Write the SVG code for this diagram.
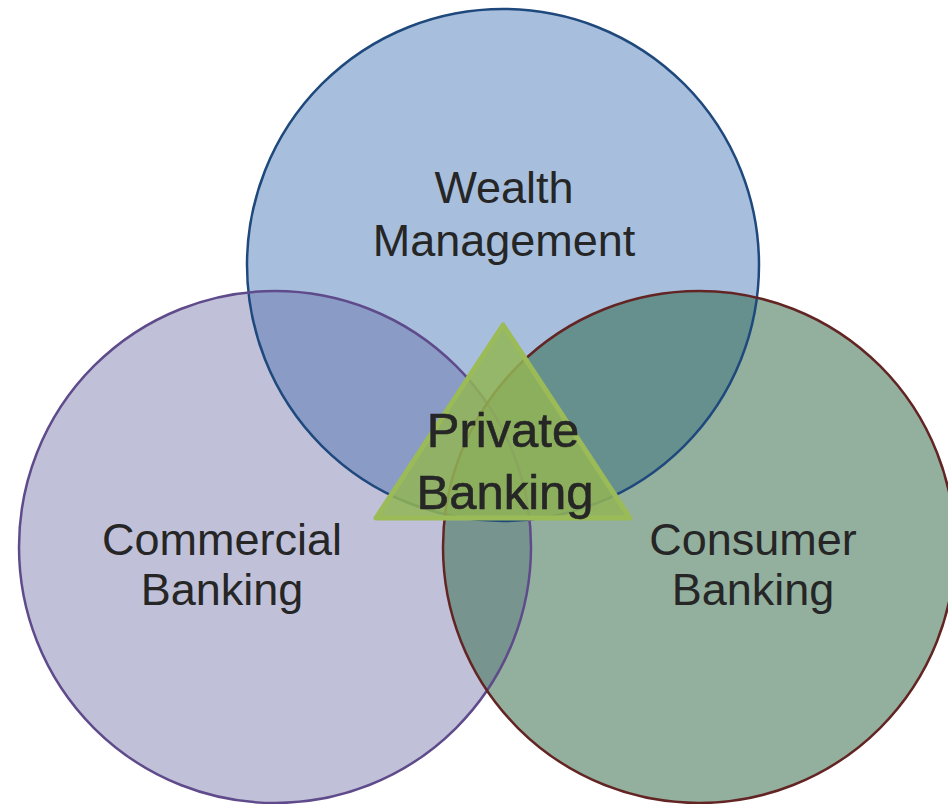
<svg xmlns="http://www.w3.org/2000/svg" width="948" height="804" viewBox="0 0 948 804">
<defs>
<style>
.lbl{font-family:"Liberation Sans",Arial,sans-serif;font-size:45px;fill:#262626;text-anchor:middle}
.big{font-size:49px;stroke:#262626;stroke-width:0.6}
</style>
<clipPath id="cT"><circle cx="503" cy="265" r="256"/></clipPath>
<clipPath id="cL"><circle cx="275" cy="547" r="256"/></clipPath>
<clipPath id="cTL" clip-path="url(#cT)"><circle cx="275" cy="547" r="256"/></clipPath>
</defs>
<rect width="948" height="804" fill="#ffffff"/>
<g id="fills">
<circle cx="503" cy="265" r="256" fill="#a7bfdd"/>
<circle cx="275" cy="547" r="256" fill="#c0c1d8"/>
<circle cx="699" cy="547" r="256" fill="#93b09f"/>
<circle cx="275" cy="547" r="256" fill="#8a9bc6" clip-path="url(#cT)"/>
<circle cx="699" cy="547" r="256" fill="#66908e" clip-path="url(#cT)"/>
<circle cx="699" cy="547" r="256" fill="#77958e" clip-path="url(#cL)"/>
<circle cx="699" cy="547" r="256" fill="#6e8f8c" clip-path="url(#cTL)"/>
</g>
<g id="wealth-management">
<circle cx="503" cy="265" r="256" fill="none" stroke="#1f497d" stroke-width="2.5"/>
<text class="lbl" x="504" y="203">Wealth</text>
<text class="lbl" x="504" y="256">Management</text>
</g>
<g id="commercial-banking">
<circle cx="275" cy="547" r="256" fill="none" stroke="#5f4b8b" stroke-width="2.5"/>
<text class="lbl" x="222" y="555">Commercial</text>
<text class="lbl" x="222" y="605">Banking</text>
</g>
<g id="consumer-banking">
<circle cx="699" cy="547" r="256" fill="none" stroke="#632523" stroke-width="2.5"/>
<text class="lbl" x="753" y="555">Consumer</text>
<text class="lbl" x="753" y="605">Banking</text>
</g>
<g id="private-banking">
<polygon points="503,325 376,518 630,518" fill="#92b555" fill-opacity="0.85" stroke="#9bbb59" stroke-width="5" stroke-linejoin="round"/>
<text class="lbl big" x="503" y="447">Private</text>
<text class="lbl big" x="505" y="509">Banking</text>
</g>
</svg>
